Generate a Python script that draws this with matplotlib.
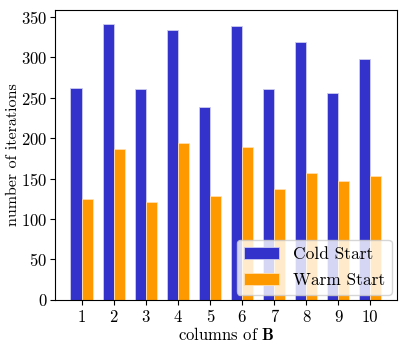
import numpy as np
import matplotlib
matplotlib.use('Agg')
from matplotlib import pyplot as plt

plt.rcParams['font.family'] = 'cmr10'
plt.rcParams['mathtext.fontset'] = 'cm'
plt.rcParams['axes.formatter.use_mathtext'] = True
plt.rcParams['font.size'] = 12

columns = [1, 2, 3, 4, 5, 6, 7, 8, 9, 10]
cold_start = [262, 341, 261, 333, 238, 339, 260, 319, 256, 298]
warm_start = [125, 187, 121, 194, 128, 189, 137, 157, 147, 153]


def main():
    x = np.array(columns)
    width = 0.35

    fig = plt.figure(dpi=100, figsize=(4.07, 3.48))
    ax = fig.add_axes([0.135, 0.138, 0.84, 0.833])
    ax.bar(x - width / 2, cold_start, width, color='#3333cc',
           edgecolor='#ccccf0', linewidth=0.6, label='Cold Start')
    ax.bar(x + width / 2, warm_start, width, color='#ff9900',
           edgecolor='#ffe0b0', linewidth=0.6, label='Warm Start')

    ax.set_xticks(x)
    ax.set_xticklabels([str(c) for c in columns])
    ax.tick_params(axis='y', pad=2)
    ax.set_xlabel(r'columns of $\mathbf{B}$', labelpad=1)
    ax.set_ylabel('number of iterations', fontsize=11.5, labelpad=1)
    ax.legend(loc='lower right', fontsize=12.5, borderaxespad=0.3,
              labelspacing=0.6)

    fig.savefig('out.png', dpi=100)


main()
